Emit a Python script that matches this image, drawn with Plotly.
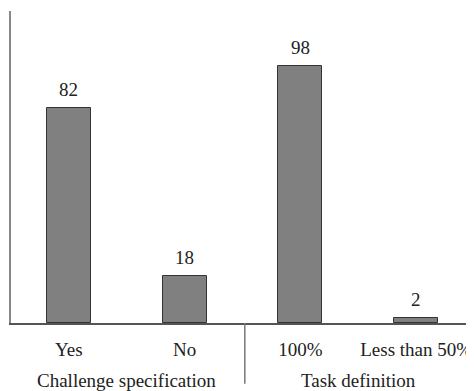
import plotly.graph_objects as go

categories = ["Yes", "No", "100%", "Less than 50%"]
values = [82, 18, 98, 2]
groups = ["Challenge specification", "Task definition"]
group_members = [[0, 1], [2, 3]]

FONT = "Times New Roman"

fig = go.Figure()
fig.add_trace(go.Bar(
    x=list(range(len(categories))),
    y=values,
    width=0.38,
    marker=dict(color="#808080", line=dict(color="#333333", width=1)),
    hoverinfo="skip",
))

annotations = []
for i, v in enumerate(values):
    annotations.append(dict(
        x=i, y=v, xref="x", yref="y", text=str(v), showarrow=False,
        yanchor="bottom", yshift=6,
        font=dict(family=FONT, size=19, color="#222222"),
    ))
for g, members in zip(groups, group_members):
    annotations.append(dict(
        x=sum(members) / len(members), y=-0.183, xref="x", yref="paper",
        text=g, showarrow=False, yanchor="middle",
        font=dict(family=FONT, size=19, color="#222222"),
    ))

fig.update_layout(
    width=466, height=383,
    margin=dict(l=3, r=0, t=3, b=68),
    paper_bgcolor="white", plot_bgcolor="white",
    showlegend=False,
    bargap=0,
    font=dict(family=FONT),
    annotations=annotations,
    shapes=[dict(
        type="line", xref="x", yref="paper",
        x0=1.52, x1=1.52, y0=0, y1=-0.195,
        line=dict(color="#777777", width=1.5),
    )],
    xaxis=dict(
        range=[-0.5, 3.5],
        tickmode="array",
        tickvals=list(range(len(categories))),
        ticktext=categories,
        showline=True, linecolor="#555555", linewidth=1.5,
        showgrid=False, zeroline=False,
        ticks="", ticklabelstandoff=8,
        tickfont=dict(family=FONT, size=19, color="#222222"),
    ),
    yaxis=dict(
        range=[0, 119],
        showline=True, linecolor="#888888", linewidth=2,
        showgrid=False, zeroline=False,
        showticklabels=False, ticks="",
    ),
)

fig.write_html("out.html")
